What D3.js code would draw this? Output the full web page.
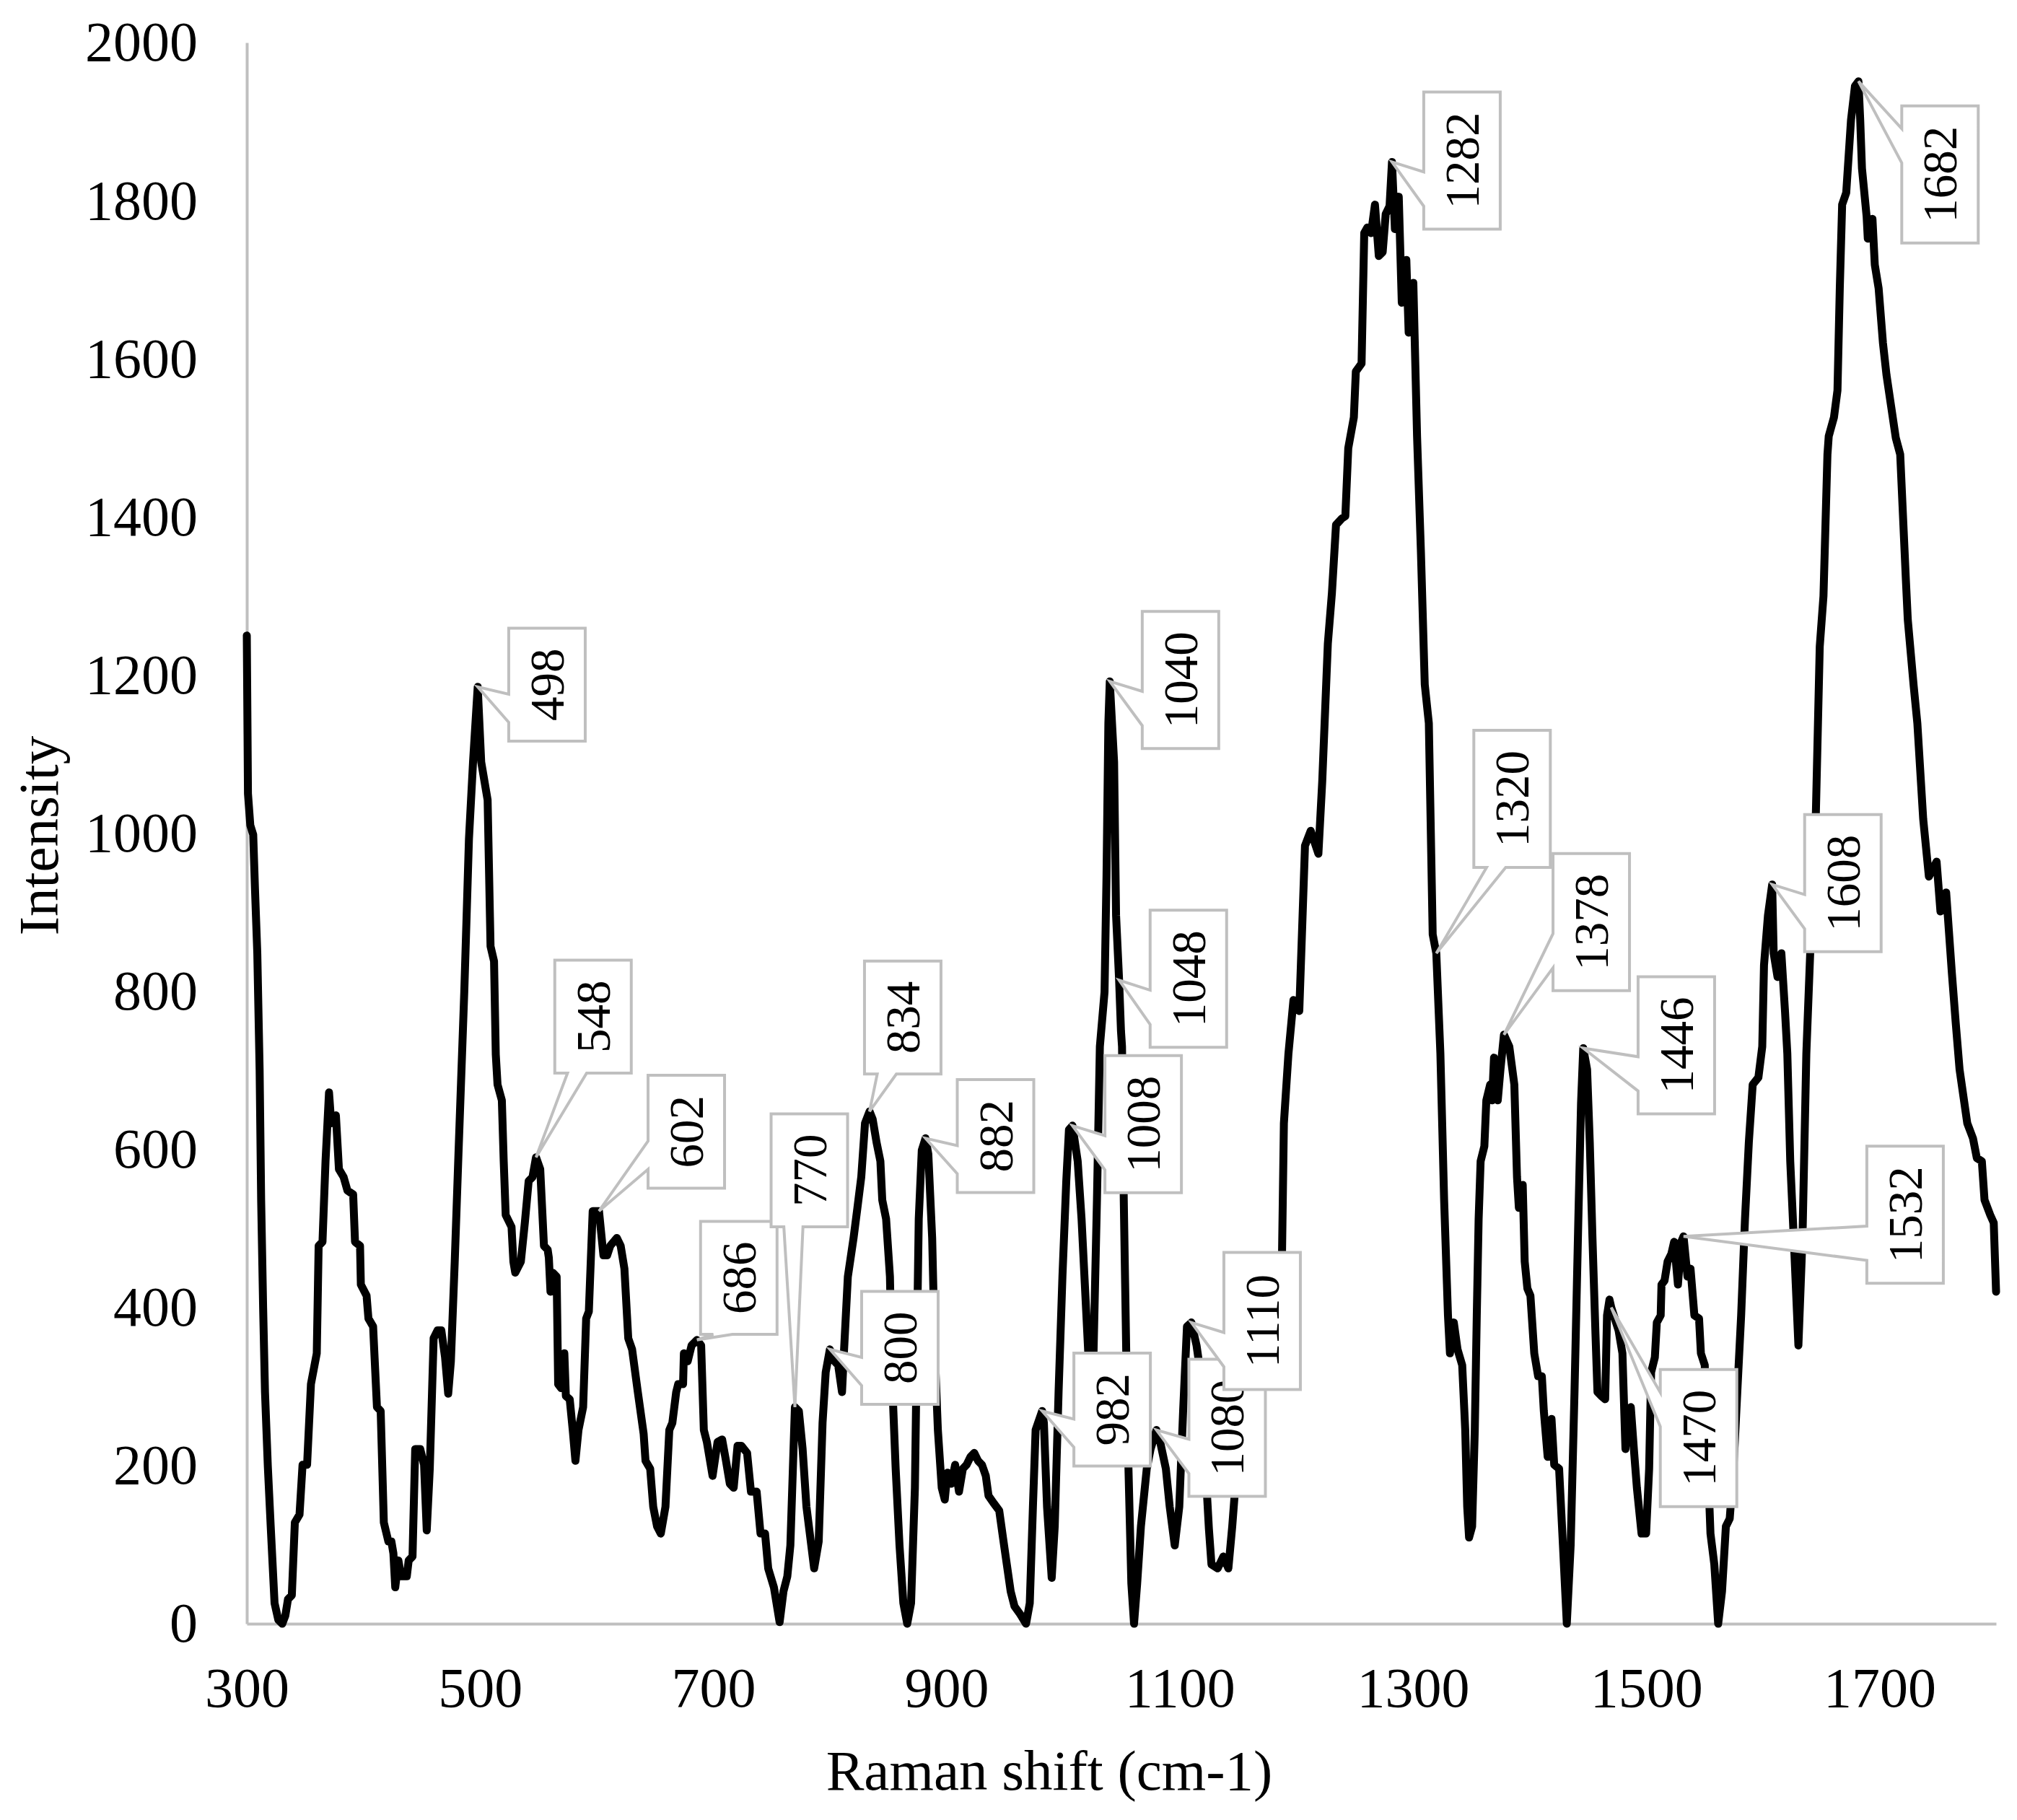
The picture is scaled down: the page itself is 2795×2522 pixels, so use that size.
<!DOCTYPE html>
<html lang="en">

<head>
    <meta charset="UTF-8">
    <title>Raman spectrum</title>
    <script src="https://cdn.jsdelivr.net/npm/d3@7/dist/d3.min.js"></script>
    <style>
        body { margin: 0; background: #fff; }
    </style>
</head>

<body>
    <div id="container"></div>

    <script>
        const width = 2795;
        const height = 2522;

        const ramanShift = [
            300, 301, 303, 305.5, 307, 309, 311, 312.3, 314, 315.6,
            318, 320.5, 323.8, 327, 330.4, 333, 335.3, 338.6, 341.2, 345.2,
            347.8, 351.7, 355, 360, 361.6, 364.9, 367.5, 370.5, 372.4, 376.4,
            379, 383, 386.3, 391.2, 392.8, 397.1, 397.8, 402.7, 404.3, 408.3,
            411.6, 414.8, 417.5, 421.4, 424, 425.7, 427.3, 430, 432.3, 437.2,
            438.8, 442.1, 444.4, 448.7, 452, 454.3, 456.9, 460.2, 463.5, 466.8,
            470, 472.7, 475, 478.3, 481.5, 484.8, 486.5, 488.5, 490.5, 494,
            498, 501, 506.5, 509, 512, 513.5, 515, 518.7, 520.3, 522,
            527, 528.6, 530.2, 535, 538.4, 541.7, 545, 548, 551.6, 554.8,
            558, 559, 560.4, 562.4, 565.7, 567, 569.6, 572.3, 573.6, 576.9,
            579.5, 581.8, 584.4, 588.4, 591, 593.3, 596.6, 602, 605.8, 609,
            611.7, 617.3, 620.6, 623.8, 627.1, 630.4, 635.3, 640.3, 641.9, 645.9,
            648.5, 651.8, 655, 659, 662.3, 664.9, 668.2, 669.9, 674.1, 674.8,
            678.1, 681.4, 686, 689.6, 691.9, 694.5, 699.4, 703.7, 707.6, 710.9,
            714.2, 717.5, 720.8, 724.1, 729, 732.3, 737.2, 740.5, 744.4, 747.1,
            752, 756.9, 760.2, 763.5, 766.1, 770, 773.4, 776.6, 779.9, 786.5,
            790.4, 793.7, 796.4, 800, 803.9, 807.1, 810.4, 812, 815.4, 820.3,
            823.6, 826.9, 830.1, 834, 836.7, 840, 843.3, 844.9, 848.2, 851.5,
            853.1, 856.4, 859.7, 863, 866.3, 869.6, 872.9, 874.5, 876.2, 878.8,
            882, 884.4, 887.7, 890, 892.6, 895.9, 898.5, 900.8, 904.1, 907.4,
            910.7, 914, 917.2, 920.5, 923.8, 927.1, 930.4, 933.7, 936, 940.2,
            945.2, 948.4, 951.7, 955, 958.3, 963.2, 968.2, 971.4, 974.1, 976.4,
            982, 983.5, 986.2, 990.2, 992.8, 996.1, 999.4, 1002.7, 1005, 1008,
            1012.5, 1015.8, 1019.1, 1022.4, 1025.5, 1029, 1031.5, 1035.5, 1037.2, 1038.8,
            1040, 1043.7, 1045.4, 1048, 1049.6, 1050.5, 1052, 1055.2, 1058.5, 1060.8,
            1063.5, 1066.7, 1071.7, 1075, 1080, 1083.2, 1088.1, 1091.4, 1095.7, 1099.6,
            1102.9, 1106.2, 1110, 1114.4, 1117.7, 1122, 1125, 1127.2, 1132.5, 1137.4,
            1141.7, 1145, 1149, 1156, 1166, 1176, 1184, 1187.7, 1189.3, 1193.2,
            1197.5, 1202.5, 1207.4, 1212.3, 1218.9, 1222.2, 1227, 1230.5, 1234, 1239,
            1242, 1244.5, 1249.3, 1251, 1255.9, 1258.2, 1260.8, 1264.1, 1267.4, 1270.7,
            1274, 1276.6, 1279.9, 1282, 1284.5, 1287.8, 1290.4, 1294.3, 1296.3, 1300.3,
            1303.5, 1306.8, 1310.1, 1313.6, 1316.9, 1320, 1323.5, 1326.7, 1330, 1331.7,
            1335, 1338.2, 1342.2, 1344.8, 1346.5, 1348.1, 1350.7, 1353, 1354.7, 1356.3,
            1358, 1361.2, 1362.9, 1366.2, 1367.8, 1369.5, 1372.7, 1375, 1378, 1382.6,
            1384.3, 1386.9, 1389.2, 1390.8, 1394.1, 1395.8, 1398.1, 1400.7, 1404, 1407.3,
            1410.5, 1412.2, 1415.5, 1418.8, 1421.1, 1425.3, 1428.6, 1431.9, 1435.2, 1438.5,
            1441.8, 1444.1, 1446, 1449.3, 1451.6, 1453.9, 1456.5, 1458.2, 1461.5, 1464.8,
            1466.4, 1468.5, 1470, 1476.3, 1479.6, 1482.2, 1484.5, 1486.8, 1489.4, 1492,
            1496, 1499.9, 1502.5, 1504.2, 1507.4, 1509.1, 1512.4, 1513.1, 1515.7, 1518.3,
            1521.6, 1523.9, 1527.2, 1530, 1532, 1535.4, 1538, 1541.3, 1545.3, 1546.9,
            1550.2, 1551.8, 1555.1, 1558.4, 1561.7, 1565, 1568.3, 1571.6, 1574.8, 1578.1,
            1581.4, 1584.7, 1588, 1591.3, 1596.2, 1599.5, 1601, 1604.4, 1608, 1609.3,
            1612.6, 1615.9, 1619, 1621, 1623.5, 1626.5, 1630.5, 1634, 1637.3, 1640.6,
            1645.5, 1648.8, 1652, 1655.4, 1656.5, 1661, 1664, 1666, 1668, 1671.5,
            1675.6, 1679, 1682, 1683.5, 1685, 1689, 1690, 1694, 1696, 1699.3,
            1703, 1706, 1710, 1714, 1717.8, 1722.7, 1724.3, 1729.3, 1732.5, 1737.5,
            1742.4, 1749, 1752.3, 1757.2, 1762.1, 1765.4, 1768.7, 1775.3, 1780.2, 1783.5,
            1787.8, 1790.1, 1795, 1798, 1800
        ];

        const intensity = [
            1250, 1050, 1010, 998, 930, 848, 700, 536, 400, 293,
            200, 123, 26, 5, 0, 10, 31, 36, 128, 138,
            201, 201, 303, 342, 478, 483, 585, 672, 633, 643,
            575, 565, 548, 543, 483, 478, 429, 415, 386, 376,
            274, 269, 128, 104, 104, 89, 46, 80, 60, 60,
            80, 85, 221, 221, 201, 118, 196, 361, 371, 371,
            337, 291, 332, 458, 594, 730, 800, 896, 993, 1090,
            1185, 1090, 1042, 857, 838, 720, 682, 662, 585, 517,
            502, 458, 444, 458, 507, 560, 565, 590, 575, 478,
            473, 463, 420, 444, 439, 303, 298, 342, 288, 284,
            245, 206, 245, 274, 386, 395, 522, 522, 466, 466,
            478, 488, 478, 449, 361, 347, 293, 240, 206, 196,
            148, 123, 114, 148, 245, 254, 293, 303, 303, 342,
            332, 352, 359, 352, 245, 230, 187, 230, 233, 206,
            177, 172, 225, 225, 216, 167, 167, 114, 114, 70,
            46, 2, 41, 60, 99, 274, 269, 221, 148, 70,
            104, 254, 318, 347, 332, 327, 293, 342, 439, 488,
            526, 565, 633, 648, 638, 609, 585, 536, 512, 439,
            318, 196, 99, 26, 0, 26, 172, 342, 512, 599,
            614, 594, 488, 342, 245, 172, 157, 191, 177, 201,
            167, 196, 201, 211, 216, 206, 201, 187, 162, 153,
            143, 109, 75, 41, 22, 12, 0, 26, 148, 245,
            269, 254, 148, 58, 123, 293, 439, 560, 625, 630,
            585, 512, 415, 318, 305, 536, 730, 799, 945, 1139,
            1192, 1090, 896, 814, 750, 730, 536, 245, 51, 0,
            51, 123, 196, 221, 245, 230, 196, 148, 99, 148,
            269, 376, 381, 352, 318, 200, 120, 75, 70, 85,
            70, 123, 200, 260, 320, 390, 440, 468, 633, 721,
            789, 775, 984, 1003, 974, 1066, 1240, 1304, 1390, 1398,
            1401, 1487, 1526, 1584, 1594, 1759, 1766, 1759, 1795, 1730,
            1735, 1783, 1793, 1849, 1764, 1805, 1671, 1725, 1633, 1696,
            1502, 1356, 1188, 1139, 872, 848, 721, 536, 390, 342,
            381, 347, 327, 245, 148, 109, 123, 245, 390, 512,
            585, 604, 662, 682, 662, 716, 662, 701, 745, 730,
            711, 682, 565, 526, 555, 458, 424, 415, 342, 313,
            313, 269, 211, 259, 201, 196, 99, 0, 99, 293,
            512, 658, 728, 701, 609, 488, 366, 293, 288, 284,
            390, 410, 400, 371, 342, 221, 269, 274, 221, 172,
            114, 114, 196, 318, 337, 381, 390, 429, 434, 458,
            468, 483, 429, 483, 490, 439, 449, 390, 386, 342,
            327, 245, 114, 75, 0, 41, 123, 133, 196, 293,
            390, 512, 609, 682, 691, 730, 833, 896, 935, 848,
            818, 848, 775, 721, 585, 488, 352, 488, 721, 848,
            1027, 1236, 1300, 1479, 1502, 1526, 1560, 1690, 1795, 1810,
            1902, 1945, 1951, 1902, 1841, 1780, 1752, 1777, 1719, 1689,
            1620, 1580, 1540, 1500, 1479, 1319, 1270, 1187, 1139, 1018,
            945, 964, 901, 925, 823, 760, 701, 633, 614, 589,
            585, 536, 517, 507, 420
        ];

        const peakLabels = [498, 548, 602, 686, 770, 800, 834, 882, 982, 1008, 1040,
            1048, 1080, 1110, 1282, 1320, 1378, 1446, 1470, 1532, 1608, 1682];

        const xTicks = [300, 500, 700, 900, 1100, 1300, 1500, 1700];
        const yTicks = [0, 200, 400, 600, 800, 1000, 1200, 1400, 1600, 1800, 2000];

        // where each callout box sits, relative to the point it marks (px)
        const calloutOffset = {
            498: [96, -3], 548: [79, -195], 602: [121, -110], 686: [58, -86],
            770: [20, -328], 800: [97, -2], 834: [46, -130], 882: [97, -3],
            982: [97, -2], 1008: [98, -2], 1040: [98, -2], 1048: [96, -2],
            1080: [98, -3], 1110: [98, -2], 1282: [97, -2], 1320: [105, -214],
            1378: [121, -156], 1446: [129, -4], 1470: [121, 181], 1532: [307, -30],
            1608: [98, -2], 1682: [113, 129]
        };

        const font = "'Liberation Serif', 'Times New Roman', serif";
        const grey = '#bfbfbf';

        const x = d3.scaleLinear().domain([300, 1800]).range([342, 2766]);
        const y = d3.scaleLinear().domain([0, 2000]).range([2250, 59]);

        const svg = d3.select('#container').append('svg')
            .attr('width', width)
            .attr('height', height)
            .attr('font-family', font);

        const xAxis = svg.append('g')
            .attr('transform', `translate(0,${y(0)})`)
            .call(d3.axisBottom(x).tickValues(xTicks).tickFormat(d3.format('d'))
                .tickSize(0).tickSizeOuter(0).tickPadding(60));
        const yAxis = svg.append('g')
            .attr('transform', `translate(${x(300)},0)`)
            .call(d3.axisLeft(y).tickValues(yTicks).tickFormat(d3.format('d'))
                .tickSize(0).tickSizeOuter(0).tickPadding(68));

        [xAxis, yAxis].forEach(g => {
            g.attr('font-family', font).attr('font-size', 78);
            g.select('.domain').attr('stroke', grey).attr('stroke-width', 4);
            g.selectAll('text').attr('fill', '#000');
        });

        svg.append('text')
            .attr('x', 1454)
            .attr('y', 2480)
            .attr('text-anchor', 'middle')
            .attr('font-size', 79)
            .text('Raman shift (cm-1)');

        svg.append('text')
            .attr('transform', 'translate(80,1158) rotate(-90)')
            .attr('text-anchor', 'middle')
            .attr('font-size', 79)
            .text('Intensity');

        const points = ramanShift.map((s, i) => [s, intensity[i]]);

        const line = d3.line()
            .x(d => x(d[0]))
            .y(d => y(d[1]));

        svg.append('path')
            .datum(points)
            .attr('fill', 'none')
            .attr('stroke', '#000')
            .attr('stroke-width', 11)
            .attr('stroke-linejoin', 'round')
            .attr('stroke-linecap', 'round')
            .attr('d', line);

        function valueAt(s) {
            const i = d3.bisectLeft(ramanShift, s);
            if (ramanShift[i] === s) return intensity[i];
            const t = (s - ramanShift[i - 1]) / (ramanShift[i] - ramanShift[i - 1]);
            return intensity[i - 1] + t * (intensity[i] - intensity[i - 1]);
        }

        // rectangle with a wedge pointing at (tx, ty), like an Excel data callout
        function calloutPath(x0, y0, w, h, tx, ty) {
            const cx = x0 + w / 2, cy = y0 + h / 2;
            const dx = (tx - cx) / w, dy = (ty - cy) / h;
            const x1 = x0 + w, y1 = y0 + h;
            const p = d3.path();
            if (Math.abs(dx) > Math.abs(dy)) {
                const [a, b] = ty < cy - 10 ? [2 / 12, 5 / 12] : [7 / 12, 10 / 12];
                if (dx < 0) {
                    p.moveTo(x0, y0); p.lineTo(x1, y0); p.lineTo(x1, y1); p.lineTo(x0, y1);
                    p.lineTo(x0, y0 + b * h); p.lineTo(tx, ty); p.lineTo(x0, y0 + a * h);
                } else {
                    p.moveTo(x0, y0); p.lineTo(x1, y0);
                    p.lineTo(x1, y0 + a * h); p.lineTo(tx, ty); p.lineTo(x1, y0 + b * h);
                    p.lineTo(x1, y1); p.lineTo(x0, y1);
                }
            } else {
                const [a, b] = tx < cx - 10 ? [2 / 12, 5 / 12] : [7 / 12, 10 / 12];
                if (dy > 0) {
                    p.moveTo(x0, y0); p.lineTo(x1, y0); p.lineTo(x1, y1);
                    p.lineTo(x0 + b * w, y1); p.lineTo(tx, ty); p.lineTo(x0 + a * w, y1);
                    p.lineTo(x0, y1);
                } else {
                    p.moveTo(x0, y0);
                    p.lineTo(x0 + a * w, y0); p.lineTo(tx, ty); p.lineTo(x0 + b * w, y0);
                    p.lineTo(x1, y0); p.lineTo(x1, y1); p.lineTo(x0, y1);
                }
            }
            p.closePath();
            return p.toString();
        }

        const boxW = 106;
        const labelSize = 67;

        svg.append('g')
            .selectAll('g')
            .data(peakLabels)
            .join('g')
            .each(function (s) {
                const g = d3.select(this);
                const tx = x(s), ty = y(valueAt(s));
                const [ox, oy] = calloutOffset[s];
                const h = String(s).length * labelSize * 0.5 + 56;
                const cx = tx + ox, cy = ty + oy;
                g.append('path')
                    .attr('d', calloutPath(cx - boxW / 2, cy - h / 2, boxW, h, tx, ty))
                    .attr('fill', '#fff')
                    .attr('stroke', grey)
                    .attr('stroke-width', 4)
                    .attr('stroke-linejoin', 'miter');
                g.append('text')
                    .attr('transform', `translate(${cx},${cy}) rotate(-90)`)
                    .attr('text-anchor', 'middle')
                    .attr('dominant-baseline', 'central')
                    .attr('font-size', labelSize)
                    .text(s);
            });
    </script>
</body>

</html>
